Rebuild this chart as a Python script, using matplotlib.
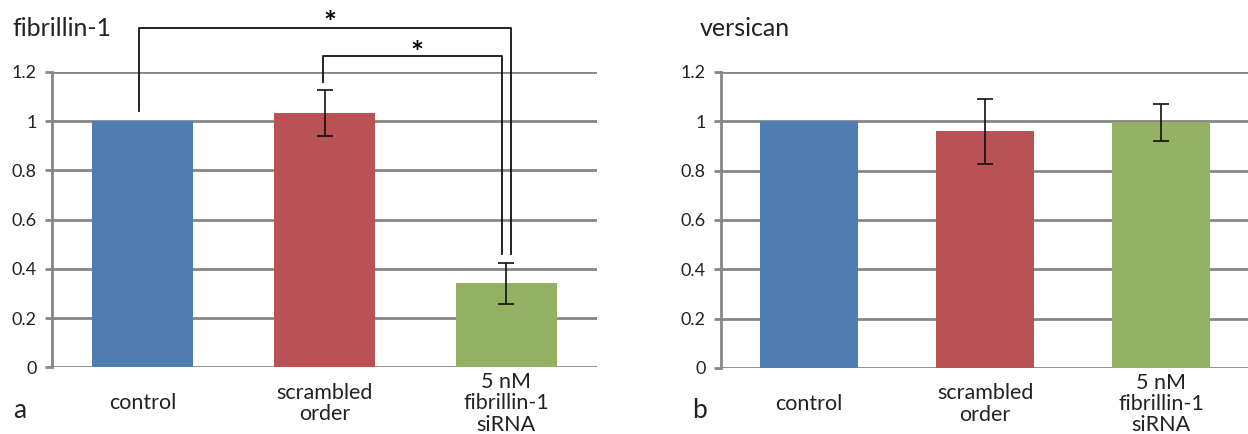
import matplotlib
matplotlib.use("Agg")
import matplotlib.pyplot as plt

plt.rcParams["font.family"] = ["Lato", "DejaVu Sans"]

categories = ["control", "scrambled\norder", "5 nM\nfibrillin-1\nsiRNA"]
colors = ["#4f7db2", "#b85255", "#93b063"]

fib_values = [1.0, 1.032, 0.341]
fib_err = [0.0, 0.093, 0.082]

ver_values = [1.0, 0.959, 0.997]
ver_err = [0.0, 0.133, 0.075]

yticks = [0, 0.2, 0.4, 0.6, 0.8, 1.0, 1.2]
ytick_labels = ["0", "0.2", "0.4", "0.6", "0.8", "1", "1.2"]

GRID = "#868686"


def style_axes(ax):
    ax.set_xlim(-0.5, 2.5)
    ax.set_ylim(0, 1.2)
    ax.set_yticks(yticks)
    ax.set_yticklabels(ytick_labels, fontsize=13, color="#222222")
    ax.set_xticks(range(len(categories)))
    ax.set_xticklabels(categories, fontsize=15.5, va="center", linespacing=1.08,
                       color="#222222")
    ax.tick_params(axis="x", length=0, pad=26)
    ax.tick_params(axis="y", length=5, width=2, color=GRID, pad=6)
    for side in ["top", "right", "bottom"]:
        ax.spines[side].set_visible(False)
    ax.spines["left"].set_color(GRID)
    ax.spines["left"].set_linewidth(2)
    ax.yaxis.grid(True, color=GRID, linewidth=2)
    ax.set_axisbelow(True)


def draw_bars(ax, values, errs):
    x = list(range(len(values)))
    ax.bar(x, values, width=0.555, color=colors, zorder=2)
    ax.errorbar(x[1:], values[1:], yerr=errs[1:], fmt="none", ecolor="#111111",
                elinewidth=1.2, capsize=5.5, capthick=1.2, zorder=3)


fig = plt.figure(figsize=(12.48, 4.34), dpi=100)
ax1 = fig.add_axes([52 / 1248, 1 - 367.3 / 434, 545 / 1248, 295.3 / 434])
ax2 = fig.add_axes([721 / 1248, 1 - 368 / 434, 528 / 1248, 296 / 434])

draw_bars(ax1, fib_values, fib_err)
draw_bars(ax2, ver_values, ver_err)
style_axes(ax1)
style_axes(ax2)

# significance brackets
ax1.plot([-0.02, -0.02, 2.025, 2.025], [1.04, 1.38, 1.38, 0.46], color="#111111",
         linewidth=1.3, clip_on=False)
ax1.plot([0.99, 0.99, 1.975, 1.975], [1.16, 1.265, 1.265, 0.46], color="#111111",
         linewidth=1.3, clip_on=False)
ax1.text(1.03, 1.395, "*", ha="center", va="center", fontsize=22, fontweight="bold",
         clip_on=False)
ax1.text(1.51, 1.275, "*", ha="center", va="center", fontsize=22, fontweight="bold",
         clip_on=False)

fig.text(12 / 1248, 1 - 28 / 434, "fibrillin-1", fontsize=18, va="center",
         color="#222222")
fig.text(700 / 1248, 1 - 28 / 434, "versican", fontsize=18, va="center",
         color="#222222")
fig.text(13 / 1248, 1 - 410 / 434, "a", fontsize=19, va="center", color="#222222")
fig.text(692 / 1248, 1 - 411 / 434, "b", fontsize=19, va="center", color="#222222")

fig.savefig("out.png", dpi=100)
